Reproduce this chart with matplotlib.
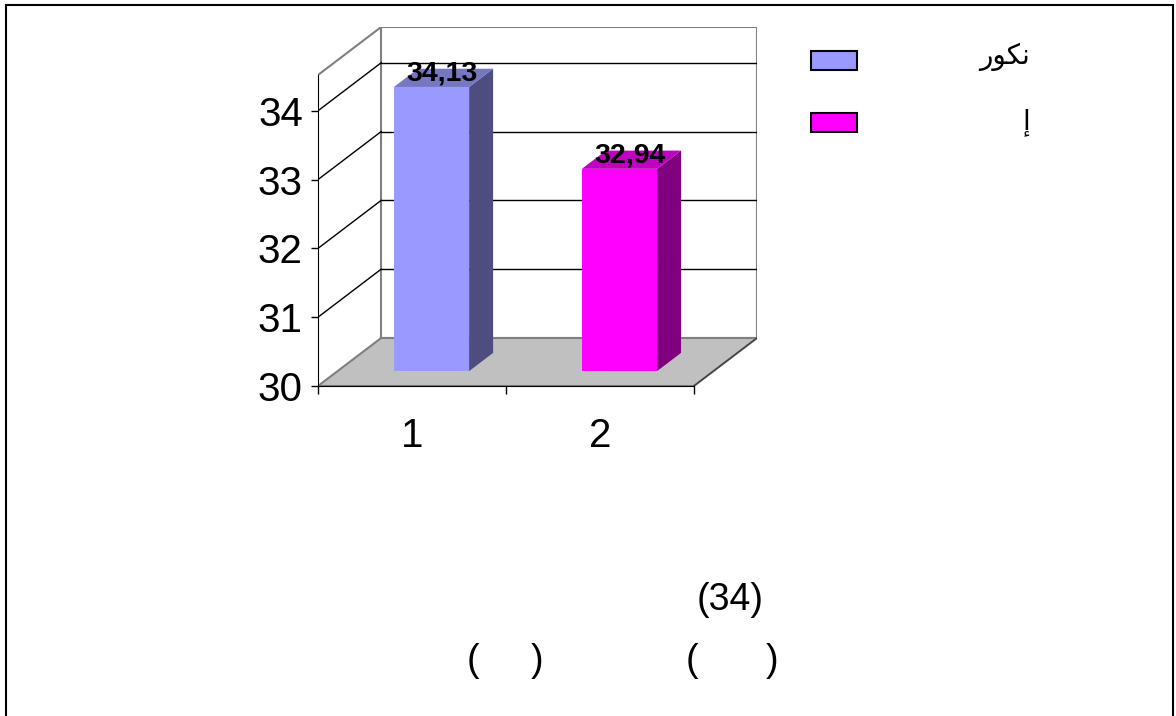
import matplotlib
matplotlib.use("Agg")
import matplotlib.pyplot as plt
from matplotlib.patches import Polygon, Rectangle

plt.rcParams['font.family'] = ['Liberation Sans', 'DejaVu Sans']

# ---- data ----
categories = ["1", "2"]
values = [34.13, 32.94]
value_labels = ["34,13", "32,94"]
series_names = ["\uFEAD\uFEEE\uFEDC\uFEE7", "\u0625"]  # نكور , إ (visual order)
front_colors = ["#9999FF", "#FF00FF"]
side_colors = ["#4D4D80", "#800080"]
top_colors = ["#7777C0", "#C000C0"]
y_ticks = [30, 31, 32, 33, 34]
y_min, y_top = 30, 34.52

W, H = 1176, 716
fig = plt.figure(figsize=(W / 100, H / 100), dpi=100)

# depth offsets in data units
Dx = 63 / 187.5
Dy = 48 / 68.8
x0, x1 = 0.5, 2.5

ax = fig.add_axes([318 / W, (716 - 386) / H, (757 - 318) / W, (386 - 27) / H])
ax.set_xlim(x0, x1 + Dx)
ax.set_ylim(y_min, y_top + Dy)
ax.patch.set_alpha(0)
for s in ("top", "right"):
    ax.spines[s].set_visible(False)
ax.spines["left"].set_bounds(y_min, y_top)
ax.spines["bottom"].set_bounds(x0, x1)
ax.spines["left"].set_zorder(10)
ax.spines["bottom"].set_zorder(10)


def P(x, v, d):
    return (x + d * Dx, v + d * Dy)


gray = "#808080"
# back wall
ax.add_patch(Polygon([P(x0, y_min, 1), P(x1, y_min, 1), P(x1, y_top, 1), P(x0, y_top, 1)],
                     closed=True, facecolor="white", edgecolor=gray, lw=1.5, zorder=1))
# left wall top edge
ax.plot(*zip(P(x0, y_top, 0), P(x0, y_top, 1)), color=gray, lw=1.5, zorder=2)
# gridlines
for v in y_ticks[1:]:
    ax.plot(*zip(P(x0, v, 1), P(x1, v, 1)), color="black", lw=1, zorder=2)
    ax.plot(*zip(P(x0, v, 0), P(x0, v, 1)), color="black", lw=1, zorder=2)
# floor
ax.add_patch(Polygon([P(x0, y_min, 0), P(x1, y_min, 0), P(x1, y_min, 1), P(x0, y_min, 1)],
                     closed=True, facecolor="#C0C0C0", edgecolor=gray, lw=1.5, zorder=3))
ax.plot(*zip(P(x1, y_min, 0), P(x1, y_min, 1)), color="#404040", lw=1, zorder=3)

# bars
d1, d2 = 0.31, 0.69
bw = 0.4
for i, (cat, v) in enumerate(zip(categories, values)):
    c = i + 1
    l, r = c - bw / 2, c + bw / 2
    ax.add_patch(Polygon([P(l, y_min, d1), P(r, y_min, d1), P(r, v, d1), P(l, v, d1)],
                         closed=True, facecolor=front_colors[i], edgecolor="none", zorder=5))
    ax.add_patch(Polygon([P(r, y_min, d1), P(r, y_min, d2), P(r, v, d2), P(r, v, d1)],
                         closed=True, facecolor=side_colors[i], edgecolor="none", zorder=5))
    ax.add_patch(Polygon([P(l, v, d1), P(r, v, d1), P(r, v, d2), P(l, v, d2)],
                         closed=True, facecolor=top_colors[i], edgecolor="none", zorder=5))
    tx, ty = P(c, v, 0.58)
    ax.text(tx - 0.035, ty, value_labels[i], ha="center", va="center", fontsize=20.5,
            fontweight="bold", color="black", zorder=6)

# ticks
ax.set_yticks(y_ticks)
ax.set_yticklabels([str(t) for t in y_ticks])
ax.tick_params(axis="y", direction="out", length=5, width=1, pad=6, labelsize=29)
ax.set_xticks([1, 2])
ax.set_xticklabels(categories)
ax.set_xticks([0.5, 1.5, 2.5], minor=True)
ax.tick_params(axis="x", which="major", length=0, pad=22, labelsize=29)
ax.tick_params(axis="x", which="minor", length=6, width=1, direction="out")

# legend (manual)
for i, name in enumerate(series_names):
    ytop_px = 51 + i * 62
    fig.add_artist(Rectangle((811 / W, (716 - ytop_px - 19) / H), 46 / W, 19 / H,
                             transform=fig.transFigure, facecolor=front_colors[i],
                             edgecolor="black", lw=1.5))
    fig.text(1030 / W, (716 - (ytop_px + 6 + i * 3)) / H, name, ha="right", va="center",
             fontsize=20, family=["DejaVu Sans"])

# bottom caption remnants
fig.text(730 / W, (716 - 600) / H, "(34)", ha="center", va="center", fontsize=27,
         family=["Liberation Sans Narrow", "Liberation Sans", "DejaVu Sans"])
for xp, s in [(473, "("), (537, ")"), (692, "("), (772, ")")]:
    fig.text(xp / W, (716 - 661) / H, s, ha="center", va="center", fontsize=27)

# figure border
fig.add_artist(Rectangle((6 / W, -0.05), (1173 - 6) / W, (716 - 5) / H + 0.05,
                         transform=fig.transFigure, facecolor="none", edgecolor="black", lw=1.5))

fig.savefig("out.png", dpi=100)
